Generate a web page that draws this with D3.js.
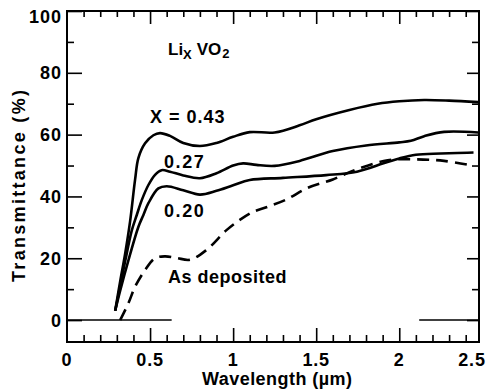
<!DOCTYPE html>
<html><head><meta charset="utf-8">
<script src="https://cdn.jsdelivr.net/npm/d3@7"></script>
<style>
body{margin:0;background:#fff}
text{font-family:"Liberation Sans",Arial,Helvetica,sans-serif;font-weight:bold;fill:#000}
</style>
</head><body>
<svg id="c" width="486" height="390"></svg>
<script>
// ---- data ----
const xTickLabels = [0, 0.5, 1, 1.5, 2, 2.5];
const yTickLabels = [0, 20, 40, 60, 80, 100];
const yMinorTicks = [10, 30, 50, 70, 90];
const seriesNames = ["X = 0.43", "0.27", "0.20", "As deposited"];

const x043 = [[0.29,3],[0.32,12.5],[0.35,21.5],[0.38,32],[0.41,45.5],[0.43,52.5],[0.47,57.2],[0.52,59.8],[0.56,60.5],[0.62,59.6],[0.70,57.3],[0.80,56.3],[0.90,57.3],[1.00,59.3],[1.10,60.8],[1.25,60.7],[1.40,63],[1.50,65],[1.70,68],[1.87,70],[2.00,70.8],[2.15,71.2],[2.30,71],[2.475,70.5]];
const x027 = [[0.29,3],[0.32,11],[0.35,19],[0.39,29],[0.42,34],[0.45,38.8],[0.49,43.7],[0.53,47],[0.57,48.5],[0.62,48],[0.70,46.8],[0.80,45.9],[0.90,47.5],[1.00,50],[1.06,50.7],[1.14,50.2],[1.25,49.9],[1.40,51.5],[1.60,54.7],[1.80,56.5],[2.00,57.5],[2.07,58],[2.15,59.5],[2.27,60.9],[2.475,60.7]];
const x020 = [[0.29,3],[0.32,9.5],[0.37,19.4],[0.43,30.2],[0.46,34],[0.49,37.8],[0.55,42.6],[0.60,43.3],[0.70,42],[0.80,40.6],[0.90,41.8],[1.00,43.6],[1.10,45.3],[1.30,46],[1.56,46.9],[1.745,48],[1.905,50.7],[2.00,52.3],[2.10,53.5],[2.25,53.9],[2.447,54.2]];
const asDep = [[0.32,0],[0.37,5.5],[0.41,10.8],[0.47,16.2],[0.53,20],[0.59,20.6],[0.66,20.1],[0.74,19.5],[0.84,22.7],[0.96,29.1],[1.04,32.4],[1.12,35],[1.20,36.5],[1.32,39],[1.45,42.8],[1.60,45.5],[1.75,48.9],[1.93,51.7],[2.10,52],[2.27,51.5],[2.447,49.9]];

// ---- scales ----
const svg = d3.select("#c");
const x = d3.scaleLinear().domain([0, 2.48]).range([67, 479]);
const y = d3.scaleLinear().domain([-7.1, 100]).range([342, 11]);

const xMinor = d3.range(1, 25).map(i => i / 10).filter(v => Math.abs(v * 2 - Math.round(v * 2)) > 1e-6);
const xMajor = [0.5, 1, 1.5, 2];

function axis(gen, vals, size, tr) {
  const g = svg.append("g").attr("transform", tr)
    .call(gen.tickValues(vals).tickSize(size).tickFormat(""));
  g.select(".domain").remove();
  g.selectAll("line").attr("stroke", "#000").attr("stroke-width", 1.6);
}
// bottom
axis(d3.axisBottom(x), xMinor, -7, "translate(0,342)");
axis(d3.axisBottom(x), xMajor, -14, "translate(0,342)");
// top
axis(d3.axisTop(x), xMinor, -6, "translate(0,11)");
axis(d3.axisTop(x), xMajor, -13, "translate(0,11)");
// left
axis(d3.axisLeft(y), yMinorTicks, -7, "translate(67,0)");
axis(d3.axisLeft(y), yTickLabels, -15, "translate(67,0)");
// right
axis(d3.axisRight(y), yMinorTicks, -7, "translate(479,0)");
axis(d3.axisRight(y), yTickLabels, -12, "translate(479,0)");

// frame
svg.append("rect").attr("x", 67).attr("y", 11).attr("width", 412).attr("height", 331)
  .attr("fill", "none").attr("stroke", "#000").attr("stroke-width", 2);

// zero baseline marks
[[0, 0.63], [2.12, 2.48]].forEach(([a, b]) => {
  svg.append("line").attr("x1", x(a)).attr("x2", x(b)).attr("y1", y(0)).attr("y2", y(0))
    .attr("stroke", "#000").attr("stroke-width", 1.6);
});

// tick labels
svg.append("g").selectAll("text").data(xTickLabels).join("text")
  .attr("x", d => Math.min(x(d), 472)).attr("y", 366)
  .attr("text-anchor", "middle").attr("font-size", 18).attr("letter-spacing", 0.8)
  .text(d => d);
svg.append("g").selectAll("text").data(yTickLabels).join("text")
  .attr("x", 62).attr("y", d => Math.max(y(d), 16) + 6.5)
  .attr("text-anchor", "end").attr("font-size", 18).attr("letter-spacing", 1)
  .text(d => d);

// axis titles
svg.append("text").attr("x", 277).attr("y", 385).attr("text-anchor", "middle")
  .attr("font-size", 18).attr("textLength", 150).attr("lengthAdjust", "spacing")
  .text("Wavelength (\u00b5m)");
svg.append("text").attr("transform", "translate(25,186) rotate(-90)").attr("text-anchor", "middle")
  .attr("font-size", 18).attr("textLength", 192).attr("lengthAdjust", "spacing")
  .text("Transmittance (%)");

// curves
const line = d3.line().x(d => x(d[0])).y(d => y(d[1])).curve(d3.curveCatmullRom.alpha(0.5));
[x043, x027, x020].forEach(s => {
  svg.append("path").attr("d", line(s)).attr("fill", "none").attr("stroke", "#000")
    .attr("stroke-width", 2.6).attr("stroke-linejoin", "round");
});
svg.append("path").attr("d", line(asDep)).attr("fill", "none").attr("stroke", "#000")
  .attr("stroke-width", 2.6).attr("stroke-dasharray", "12,7");

// series labels
const labelPos = [[150, 123, 1], [164, 168, 1.6], [164, 217, 1.6], [168, 283, 0.5]];
seriesNames.forEach((n, i) => {
  svg.append("text").attr("x", labelPos[i][0]).attr("y", labelPos[i][1])
    .attr("font-size", 18).attr("letter-spacing", labelPos[i][2]).text(n);
});

// compound label
const t = svg.append("text").attr("x", 168).attr("y", 55).attr("font-size", 17);
t.append("tspan").text("Li");
t.append("tspan").attr("font-size", 13).attr("dy", 4).text("X");
t.append("tspan").attr("dy", -4).attr("dx", 5).text("VO");
t.append("tspan").attr("font-size", 13).attr("dy", 3).attr("dx", 1).text("2");
</script>
</body></html>
